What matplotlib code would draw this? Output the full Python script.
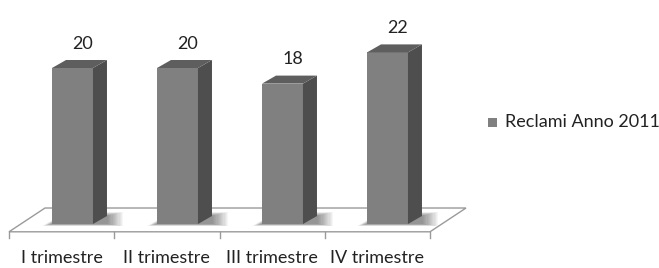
import numpy as np
import matplotlib.pyplot as plt
from matplotlib.patches import Polygon, Rectangle

categories = ['I trimestre', 'II trimestre', 'III trimestre', 'IV trimestre']
values = [20, 20, 18, 22]
series_name = 'Reclami Anno 2011'

plt.rcParams['font.family'] = ['Lato', 'DejaVu Sans']

fig = plt.figure(figsize=(6.59, 2.68), dpi=100)
ax = fig.add_axes([0, 0, 1, 1])
# data units: 1 category = 105 px, 1 value unit = 7.8 px
ax.set_xlim((0 - 72.5) / 105, (659 - 72.5) / 105)
ax.set_ylim((224 - 268) / 7.8, (224 - 0) / 7.8)
ax.set_axis_off()

front = '#808080'
side = '#4e4e4e'
top = '#5e5e5e'
width = 0.39
dx, dy = 14 / 105, 8 / 7.8
px, py = 1 / 105, 1 / 7.8

# floor
fl_front, fl_back = -1.0, 2.05
fl_left, fl_right = (9 - 72.5) / 105, (430 - 72.5) / 105
fl_shift = 36 / 105
ax.add_patch(Polygon([(fl_left, fl_front), (fl_right, fl_front),
                      (fl_right + fl_shift, fl_back), (fl_left + fl_shift, fl_back)],
                     closed=True, facecolor='white', edgecolor='#9a9a9a', lw=1.0, zorder=1))
# ticks under the floor
for k in range(len(categories) + 1):
    xt = fl_left + k * (fl_right - fl_left) / len(categories)
    ax.plot([xt, xt], [fl_front, fl_front - 0.8], color='#9a9a9a', lw=1.0, zorder=1)

x = np.arange(len(categories))
for xi, v in zip(x, values):
    l, r = xi - width / 2, xi + width / 2
    # soft shadow on the floor
    for s in np.linspace(16, 1, 14):
        ax.add_patch(Polygon([(l - s * 0.6 * px, -s * 0.12 * py), (r + dx + s * px, -s * 0.12 * py),
                              (r + dx + s * px, dy + s * 0.25 * py), (l + dx, dy + s * 0.25 * py)],
                             closed=True, facecolor='black', alpha=0.035,
                             edgecolor='none', zorder=2))
    ax.bar(xi, v, width=width, color=front, edgecolor='none', zorder=3)
    ax.add_patch(Polygon([(r, 0), (r + dx, dy), (r + dx, v + dy), (r, v)],
                         closed=True, facecolor=side, edgecolor='none', zorder=3))
    ax.add_patch(Polygon([(l, v), (r, v), (r + dx, v + dy), (l + dx, v + dy)],
                         closed=True, facecolor=top, edgecolor='none', zorder=3))
    ax.text(xi + dx / 2 + 0.03, v + dy + 2.1, str(v), ha='center', va='center',
            fontsize=13, color='#222222')

for k, c in enumerate(categories):
    xc = fl_left + (k + 0.5) * (fl_right - fl_left) / len(categories)
    ax.text(xc, (224 - 258) / 7.8, c, ha='center', va='center', fontsize=13, color='#222222')

# legend
ax.add_patch(Rectangle(((488 - 72.5) / 105, (224 - 127) / 7.8), 9 * px, 9 * py,
                       facecolor=front, edgecolor='none'))
ax.text((505 - 72.5) / 105, (224 - 122) / 7.8, series_name, ha='left', va='center',
        fontsize=13, color='#222222')

fig.savefig('out.png', dpi=100)
